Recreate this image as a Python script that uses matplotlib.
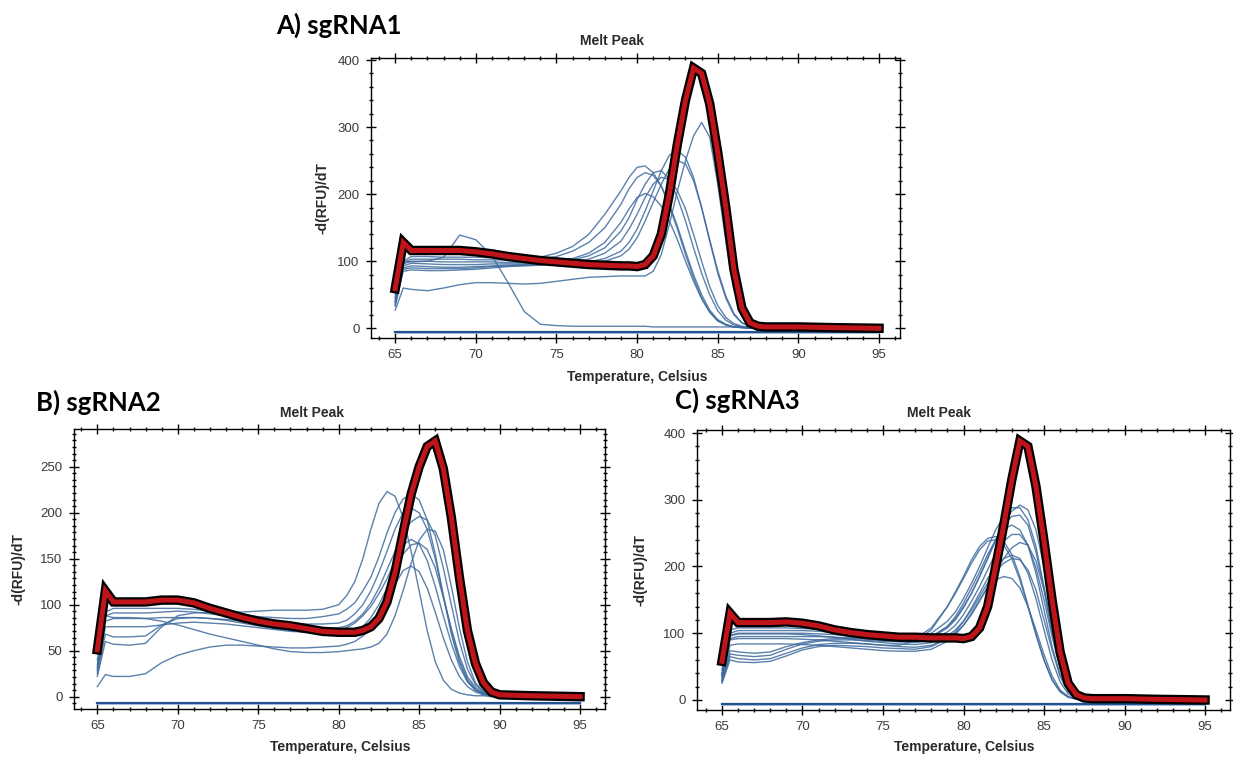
import matplotlib.pyplot as plt
from matplotlib.ticker import MultipleLocator

plt.rcParams['font.family'] = ['Liberation Sans', 'DejaVu Sans']

# temperature grid (Celsius) for panels A and C
temps_ac = [65, 65.5, 66, 67, 68, 69, 70, 71, 72, 73,
            74, 75, 76, 77, 78, 79, 79.5, 80, 80.5, 81,
            81.5, 82, 82.5, 83, 83.5, 84, 84.5, 85, 85.5, 86,
            86.5, 87, 87.5, 88, 90, 92, 95]
# temperature grid for panel B
temps_b = [65, 65.5, 66, 67, 68, 69, 70, 71, 72, 73,
           74, 75, 76, 77, 78, 79, 80, 80.5, 81, 81.5,
           82, 82.5, 83, 83.5, 84, 84.5, 85, 85.5, 86, 86.5,
           87, 87.5, 88, 88.5, 89, 89.5, 90, 92, 95]

# ---- A) sgRNA1 ----
red_a = [59, 128, 116, 116, 116, 116, 114, 111, 107, 104,
         101, 99, 97, 95, 94, 93, 93, 92, 95, 108,
         140, 200, 275, 340, 388, 380, 335, 262, 180, 88,
         30, 8, 3, 2, 2, 1, 0]
blues_a = [
    [45, 100, 99, 100, 106, 139, 132, 108, 68, 25,
     6, 4, 3, 3, 3, 3, 3, 3, 3, 2,
     2, 2, 2, 2, 2, 2, 2, 2, 2, 2,
     2, 1, 1, 1, 1, 1, 0],
    [40, 100, 107, 107, 106, 106, 106, 105, 104, 104,
     106, 112, 122, 140, 170, 205, 225, 240, 242, 232,
     212, 182, 148, 110, 75, 45, 24, 11, 5, 2,
     1, 0, 0, 0, 0, 0, 0],
    [45, 98, 103, 103, 103, 103, 102, 102, 102, 102,
     103, 107, 115, 128, 150, 185, 208, 225, 232, 228,
     212, 185, 152, 115, 80, 50, 27, 13, 6, 2,
     1, 0, 0, 0, 0, 0, 0],
    [50, 96, 100, 100, 99, 99, 99, 99, 98, 98,
     98, 100, 104, 112, 128, 158, 178, 195, 201, 196,
     182, 160, 132, 100, 70, 44, 24, 11, 5, 2,
     1, 0, 0, 0, 0, 0, 0],
    [40, 93, 97, 96, 95, 95, 95, 96, 96, 96,
     97, 98, 102, 108, 120, 145, 165, 192, 215, 232,
     235, 222, 195, 160, 120, 82, 50, 26, 12, 5,
     2, 1, 0, 0, 0, 0, 0],
    [38, 90, 93, 92, 91, 91, 92, 93, 94, 95,
     96, 97, 99, 103, 112, 130, 148, 170, 195, 215,
     225, 222, 205, 178, 140, 100, 62, 34, 16, 7,
     3, 1, 0, 0, 0, 0, 0],
    [35, 88, 90, 89, 89, 89, 90, 92, 93, 94,
     95, 96, 97, 99, 104, 115, 128, 148, 175, 205,
     235, 258, 265, 255, 225, 180, 130, 82, 45, 20,
     8, 3, 1, 0, 0, 0, 0],
    [33, 85, 87, 86, 86, 87, 88, 90, 92, 93,
     94, 95, 96, 97, 100, 108, 118, 135, 160, 188,
     215, 238, 250, 245, 220, 180, 132, 86, 48, 22,
     8, 3, 1, 0, 0, 0, 0],
    [27, 60, 58, 56, 60, 65, 68, 68, 67, 66,
     67, 70, 73, 76, 77, 78, 78, 78, 78, 85,
     110, 155, 205, 250, 287, 307, 285, 215, 130, 58,
     18, 5, 2, 1, 1, 0, 0],
]
base_a = [-6, -6]

# ---- B) sgRNA2 ----
red_b = [51, 115, 103, 103, 103, 105, 105, 102, 96, 91,
         86, 82, 79, 77, 74, 71, 70, 70, 70, 72,
         76, 85, 103, 135, 178, 220, 250, 272, 278, 248,
         195, 130, 72, 36, 15, 5, 2, 1, 0]
blues_b = [
    [22, 60, 57, 56, 58, 76, 88, 91, 92, 92,
     92, 93, 94, 94, 94, 95, 100, 110, 125, 150,
     182, 210, 223, 218, 195, 158, 115, 72, 38, 18,
     8, 4, 2, 1, 1, 0, 0, 0, 0],
    [40, 92, 96, 96, 96, 96, 96, 95, 93, 91,
     89, 87, 86, 85, 85, 87, 90, 95, 102, 115,
     130, 152, 178, 200, 215, 220, 214, 192, 155, 110,
     68, 37, 17, 7, 3, 1, 0, 0, 0],
    [35, 88, 91, 91, 91, 92, 93, 92, 90, 88,
     86, 84, 82, 80, 79, 79, 80, 83, 90, 100,
     115, 135, 158, 182, 200, 205, 200, 182, 150, 110,
     72, 40, 19, 8, 3, 1, 0, 0, 0],
    [32, 82, 85, 85, 85, 86, 86, 86, 85, 84,
     82, 80, 78, 76, 75, 74, 75, 77, 82, 90,
     102, 118, 138, 158, 178, 190, 196, 192, 175, 140,
     100, 60, 30, 13, 5, 2, 1, 0, 0],
    [28, 76, 76, 76, 76, 78, 80, 81, 80, 79,
     77, 75, 73, 71, 70, 70, 72, 75, 80, 88,
     98, 112, 128, 148, 165, 171, 166, 148, 120, 88,
     58, 33, 16, 7, 3, 1, 0, 0, 0],
    [25, 68, 65, 65, 66, 78, 85, 86, 85, 83,
     80, 77, 74, 72, 70, 68, 67, 67, 70, 76,
     86, 100, 118, 138, 155, 165, 167, 160, 140, 108,
     74, 44, 22, 10, 4, 1, 0, 0, 0],
    [30, 88, 86, 86, 85, 82, 78, 73, 68, 64,
     60, 56, 52, 49, 48, 48, 49, 50, 51, 52,
     54, 58, 68, 88, 115, 145, 170, 182, 180, 160,
     120, 75, 38, 15, 6, 2, 1, 0, 0],
    [11, 24, 22, 22, 25, 37, 45, 50, 54, 56,
     56, 55, 54, 53, 53, 54, 55, 57, 60, 66,
     75, 88, 105, 122, 137, 142, 136, 118, 92, 64,
     40, 22, 11, 5, 2, 1, 0, 0, 0],
]
base_b = [-7, -7]

# ---- C) sgRNA3 ----
red_c = [58, 130, 116, 116, 116, 117, 115, 111, 105, 101,
         98, 96, 94, 94, 93, 93, 93, 92, 95, 108,
         140, 200, 262, 330, 388, 380, 320, 238, 150, 72,
         25, 8, 3, 2, 2, 1, 0]
blues_c = [
    [45, 105, 108, 108, 108, 108, 107, 106, 104, 101,
     98, 95, 93, 92, 95, 110, 122, 140, 160, 185,
     212, 240, 265, 283, 292, 285, 255, 200, 130, 65,
     25, 8, 3, 1, 1, 0, 0],
    [40, 100, 104, 104, 104, 104, 104, 103, 101, 99,
     96, 94, 92, 93, 100, 118, 132, 152, 175, 200,
     228, 255, 275, 288, 288, 270, 230, 170, 105, 50,
     18, 6, 2, 1, 0, 0, 0],
    [38, 97, 100, 100, 100, 100, 100, 99, 98, 96,
     94, 92, 90, 89, 93, 108, 120, 138, 160, 185,
     212, 240, 262, 275, 277, 262, 222, 165, 100, 48,
     17, 5, 2, 1, 0, 0, 0],
    [35, 92, 95, 95, 95, 95, 95, 95, 94, 93,
     92, 90, 88, 88, 94, 110, 125, 145, 168, 192,
     218, 240, 256, 262, 255, 232, 190, 135, 80, 38,
     13, 4, 1, 0, 0, 0, 0],
    [30, 74, 72, 70, 72, 80, 86, 90, 92, 92,
     91, 89, 87, 86, 90, 102, 112, 128, 148, 170,
     195, 220, 238, 248, 248, 232, 198, 150, 95, 48,
     18, 6, 2, 1, 0, 0, 0],
    [28, 69, 67, 65, 67, 76, 84, 88, 90, 90,
     89, 88, 88, 92, 108, 140, 162, 185, 210, 230,
     242, 245, 238, 218, 185, 142, 98, 60, 30, 13,
     5, 2, 1, 0, 0, 0, 0],
    [27, 65, 62, 60, 62, 70, 78, 83, 85, 85,
     84, 82, 80, 79, 82, 92, 100, 112, 128, 148,
     170, 192, 212, 228, 236, 232, 208, 165, 110, 58,
     22, 7, 2, 1, 0, 0, 0],
    [36, 90, 92, 92, 92, 92, 91, 90, 88, 86,
     84, 82, 82, 88, 105, 140, 160, 182, 205, 225,
     238, 240, 232, 212, 180, 140, 98, 60, 30, 12,
     4, 1, 0, 0, 0, 0, 0],
    [25, 60, 57, 56, 58, 66, 75, 80, 82, 81,
     80, 78, 77, 76, 80, 92, 102, 118, 138, 160,
     182, 200, 212, 217, 212, 190, 152, 105, 60, 27,
     9, 3, 1, 0, 0, 0, 0],
    [32, 82, 84, 84, 84, 84, 83, 82, 80, 78,
     76, 74, 73, 73, 76, 88, 98, 112, 130, 150,
     168, 180, 185, 182, 168, 140, 105, 68, 36, 15,
     5, 2, 1, 0, 0, 0, 0],
    [38, 96, 99, 99, 99, 99, 98, 96, 94, 91,
     88, 86, 84, 83, 86, 96, 105, 118, 135, 155,
     175, 193, 205, 212, 210, 195, 165, 120, 75, 35,
     12, 4, 1, 0, 0, 0, 0],
]
base_c = [-6, -6]
base_t = [65, 95]

W, H = 1233, 757
fig = plt.figure(figsize=(W / 100, H / 100), dpi=100)


def px_rect(left, top, right, bottom):
    return [left / W, 1 - bottom / H, (right - left) / W, (bottom - top) / H]


def melt_panel(rect, temps, blues, red, base, xlim, ylim, ymajor, yminor):
    ax = fig.add_axes(rect)
    for curve in blues:
        ax.plot(temps, curve, color='#3f6b9e', lw=1.0, alpha=0.85)
    ax.plot(base_t, [b - 1.5 for b in base], color='#9dbbe0', lw=1.2)
    ax.plot(base_t, base, color='#24528f', lw=1.6)
    ax.plot(temps, red, color='black', lw=6.8, solid_joinstyle='miter')
    ax.plot(temps, red, color='#c0141b', lw=3.6, solid_joinstyle='miter')
    ax.set_xlim(*xlim)
    ax.set_ylim(*ylim)
    ax.xaxis.set_major_locator(MultipleLocator(5))
    ax.xaxis.set_minor_locator(MultipleLocator(1))
    ax.yaxis.set_major_locator(MultipleLocator(ymajor))
    ax.yaxis.set_minor_locator(MultipleLocator(yminor))
    ax.tick_params(which='both', direction='inout', width=1.0, top=True, right=True,
                   labelsize=9.5, labelcolor='#3a3a3a')
    ax.tick_params(which='major', length=6.5, pad=5)
    ax.tick_params(which='minor', length=3.5)
    for s in ax.spines.values():
        s.set_linewidth(1.0)
        s.set_color('black')
    return ax


axA = melt_panel(px_rect(371, 58, 900, 338), temps_ac, blues_a, red_a, base_a,
                 (63.5, 96.3), (-14.5, 403), 100, 20)
axB = melt_panel(px_rect(74, 429, 605, 709), temps_b, blues_b, red_b, base_b,
                 (63.55, 96.55), (-13.4, 291), 50, 50 / 7)
axC = melt_panel(px_rect(697, 430, 1230, 710), temps_ac, blues_c, red_c, base_c,
                 (63.45, 96.55), (-15, 404.5), 100, 20)


def ftext(x, y, s, **kw):
    fig.text(x / W, 1 - y / H, s, **kw)


lab = dict(fontsize=10, fontweight='bold', color='#2a2a2a', ha='center', va='center')
for tx, ty, xx, xy, yx, yy in [(612, 41, 637, 377, 322, 198),
                               (312, 413, 340, 747, 19, 569),
                               (939, 413, 964, 747, 640, 570)]:
    ftext(tx, ty, 'Melt Peak', **lab)
    ftext(xx, xy, 'Temperature, Celsius', **lab)
    ftext(yx, yy, '-d(RFU)/dT', rotation=90, **lab)

panel = dict(fontsize=18.5, fontweight='bold', family='Lato', color='black', ha='left', va='center')
ftext(276, 25, 'A) sgRNA1', **panel)
ftext(36, 402, 'B) sgRNA2', **panel)
ftext(675, 400, 'C) sgRNA3', **panel)

fig.savefig('out.png', dpi=100)
